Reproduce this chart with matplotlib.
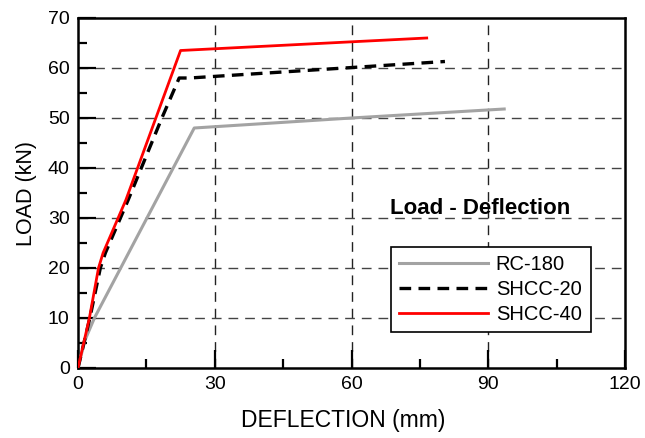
import matplotlib
matplotlib.use("Agg")
import matplotlib.pyplot as plt
from matplotlib.ticker import MultipleLocator

plt.rcParams['font.family'] = ['Liberation Sans', 'DejaVu Sans']

# Data (deflection mm, load kN)
rc180_x = [0, 1.5, 3.6, 25.5, 60, 93.5]
rc180_y = [0, 5.5, 10, 48.0, 50.0, 51.8]

shcc20_x = [0, 2.6, 4.9, 6.0, 11.0, 18.4, 22.2, 24.5, 80.5]
shcc20_y = [0, 10, 20, 23, 33.6, 50, 58.0, 58.0, 61.3]

shcc40_x = [0, 2.5, 4.5, 5.5, 10.5, 22.5, 76.5]
shcc40_y = [0, 10, 20, 23, 33.6, 63.5, 66.0]

series_labels = ["RC-180", "SHCC-20", "SHCC-40"]
x_ticks = [0, 30, 60, 90, 120]
y_ticks = [0, 10, 20, 30, 40, 50, 60, 70]

fig = plt.figure(figsize=(6.45, 4.38), dpi=100)
ax = fig.add_axes([78/645, 1-368/438, (625-78)/645, (368-18)/438])

ax.plot(rc180_x, rc180_y, color='#a3a3a3', lw=2.2, label=series_labels[0], zorder=3)
ax.plot(shcc20_x, shcc20_y, color='black', lw=2.4, ls=(0, (3.5, 2.2)), label=series_labels[1], zorder=4)
ax.plot(shcc40_x, shcc40_y, color='#ff0000', lw=2.0, label=series_labels[2], zorder=5)

ax.set_xlim(0, 120)
ax.set_ylim(0, 70)
ax.set_xticks(x_ticks)
ax.set_yticks(y_ticks)
ax.xaxis.set_minor_locator(MultipleLocator(15))
ax.yaxis.set_minor_locator(MultipleLocator(5))
ax.tick_params(which='major', direction='in', length=13, width=1.6, labelsize=14, pad=6)
ax.tick_params(which='minor', direction='in', length=6.5, width=1.6)

for v in [30, 60, 90]:
    ax.axvline(v, color='#222222', lw=1.0, ls=(0, (7, 5)), zorder=1)
for v in [10, 20, 30, 40, 50, 60]:
    ax.axhline(v, color='#444444', lw=1.0, ls=(0, (7, 5)), zorder=1)

for s in ax.spines.values():
    s.set_linewidth(1.8)

ax.set_xlabel("DEFLECTION (mm)", fontsize=16.5)
ax.xaxis.set_label_coords((343-78)/547, -(420-368)/350)
ax.xaxis.label.set_va('center')
ax.set_ylabel("LOAD (kN)", fontsize=15.5, labelpad=8)

ax.text(68.5, 32.0, "Load - Deflection", fontsize=16, fontweight='bold', va='center', ha='left')

leg = ax.legend(loc='upper left', bbox_to_anchor=((391-78)/547, (368-337)/350, (591-391)/547, (337-247)/350),
                mode='expand', fontsize=14.5, frameon=True, fancybox=False, edgecolor='black',
                handlelength=4.4, borderaxespad=0, labelspacing=0.3, borderpad=0.4, handletextpad=0.4)
leg.get_frame().set_linewidth(1.2)
leg.get_frame().set_alpha(1)

fig.savefig("out.png", dpi=100)
